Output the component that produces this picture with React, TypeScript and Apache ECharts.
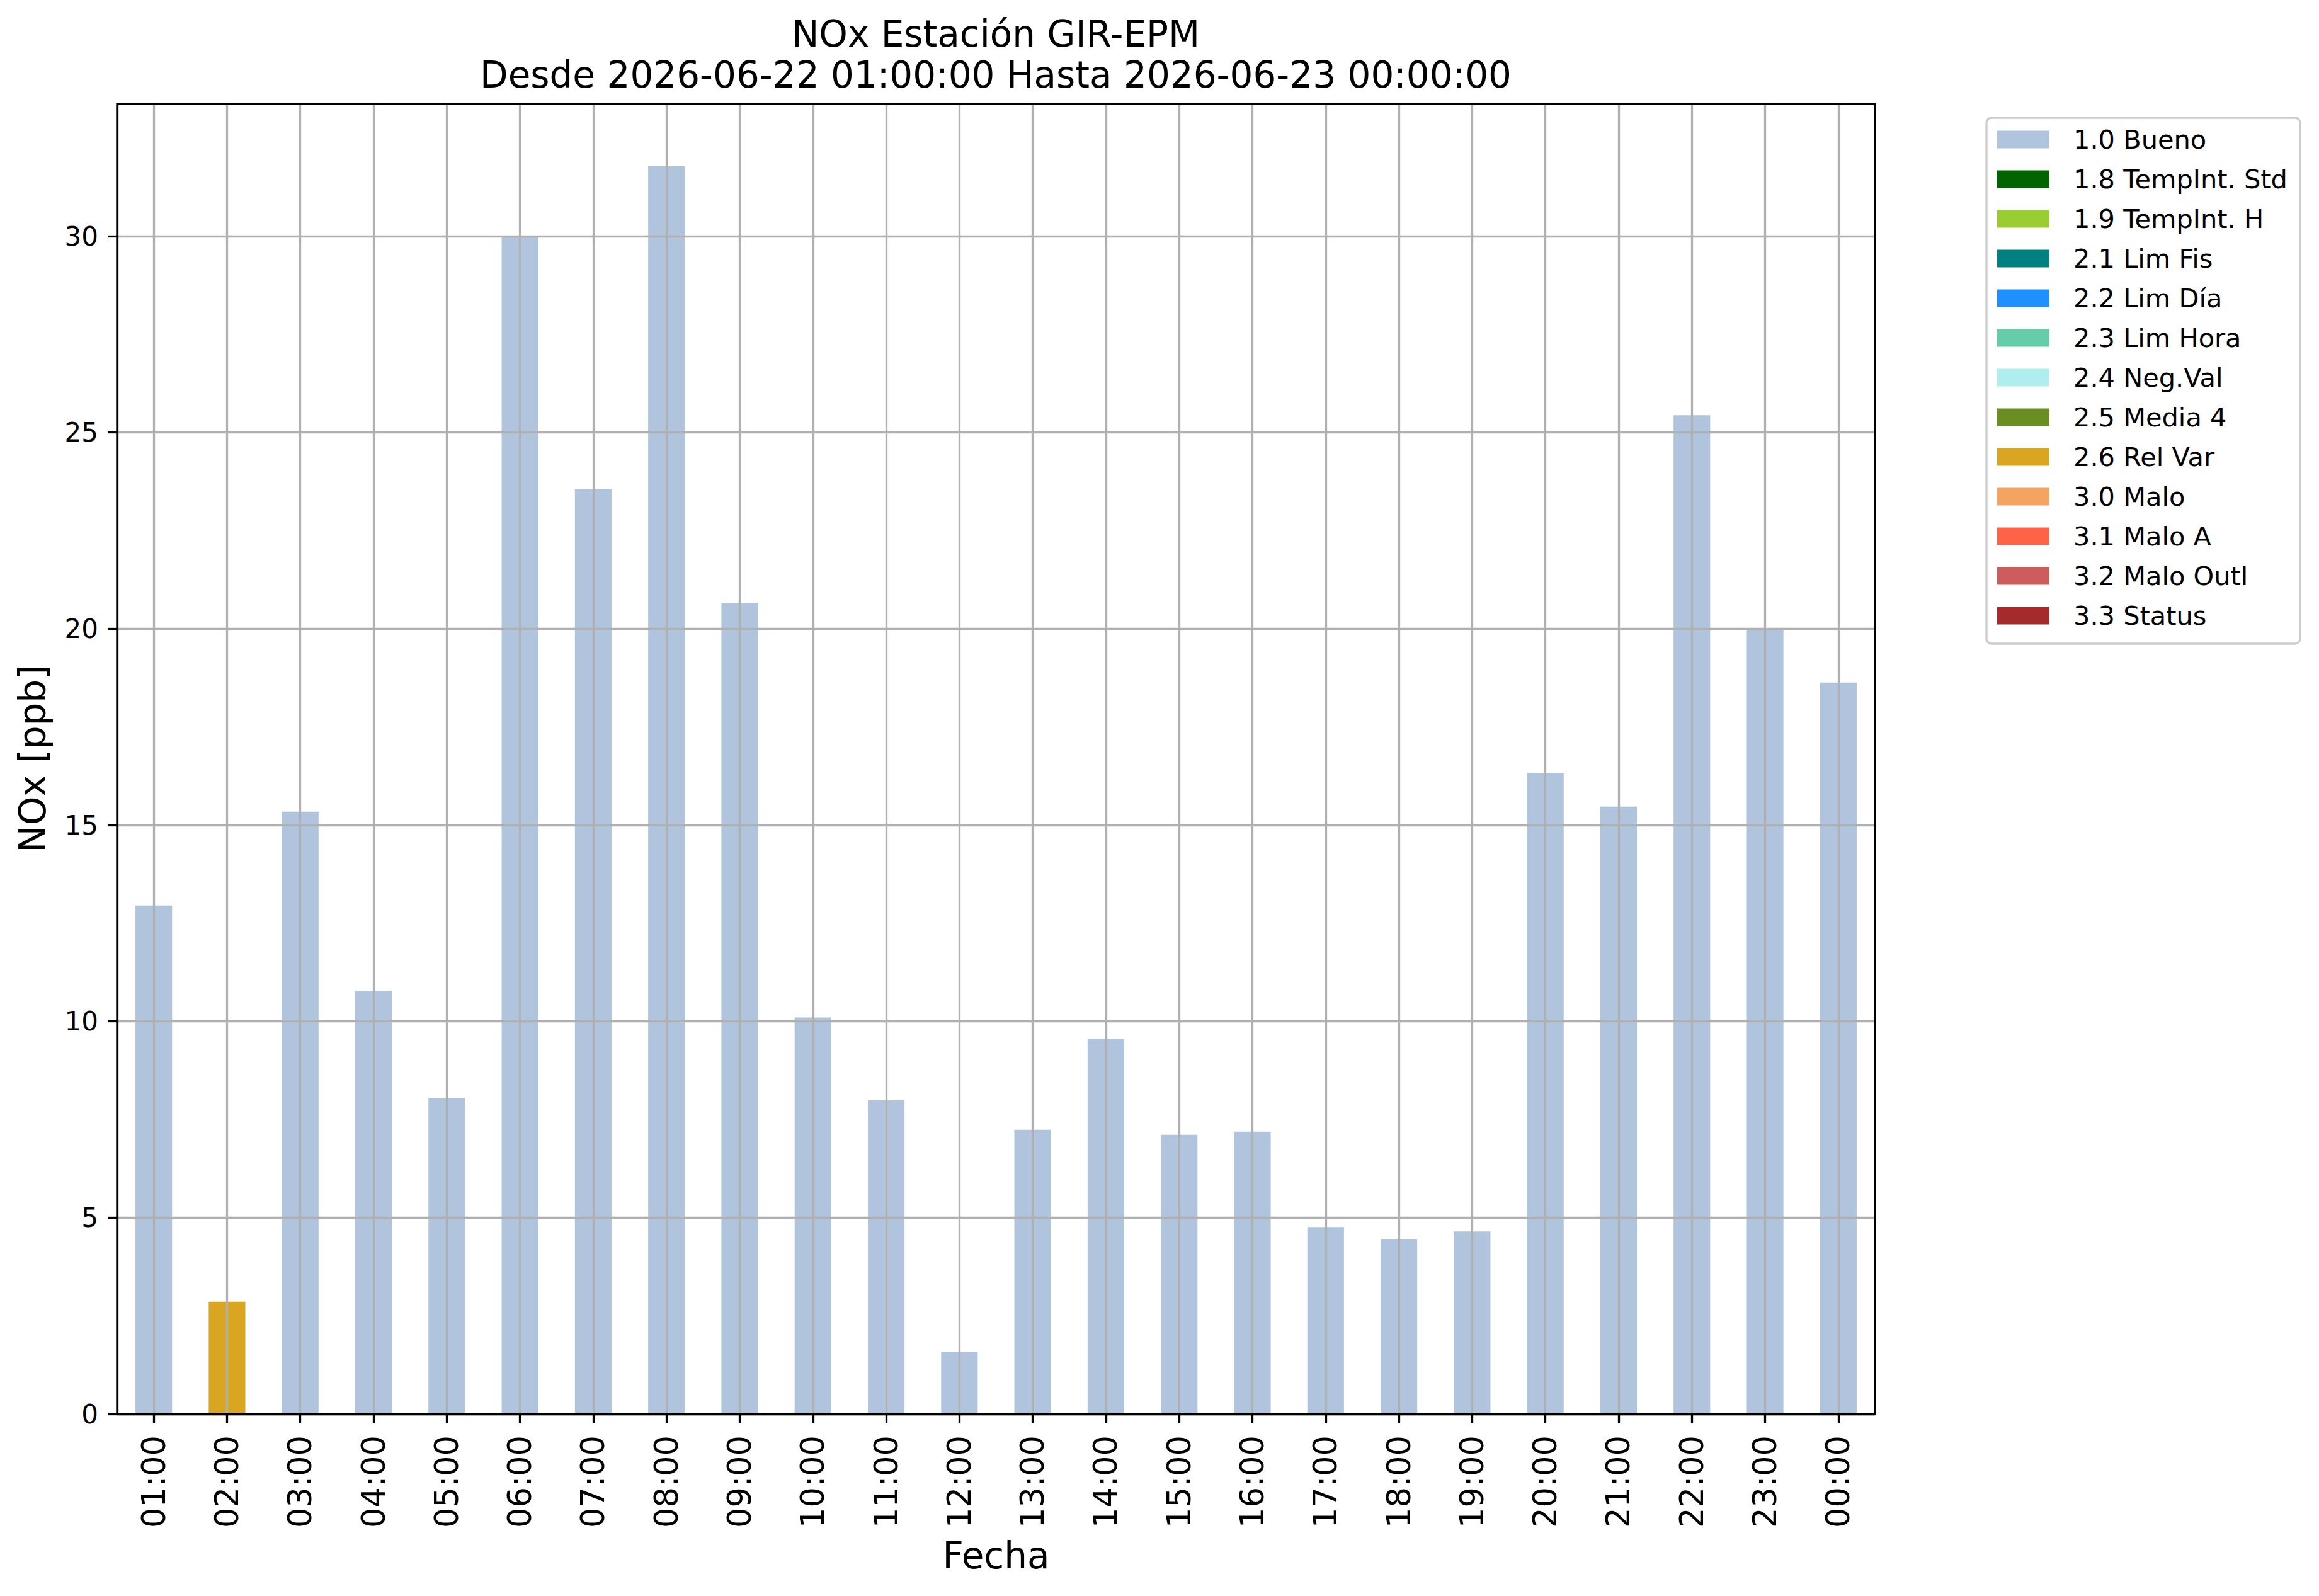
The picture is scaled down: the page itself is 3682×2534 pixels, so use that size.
import React, { useEffect, useRef } from "react";
import * as echarts from "echarts";

const hours = [
  "01:00", "02:00", "03:00", "04:00", "05:00", "06:00", "07:00", "08:00",
  "09:00", "10:00", "11:00", "12:00", "13:00", "14:00", "15:00", "16:00",
  "17:00", "18:00", "19:00", "20:00", "21:00", "22:00", "23:00", "00:00",
];

const noxValues = [
  12.95, 2.86, 15.34, 10.78, 8.04, 29.97, 23.56, 31.78,
  20.66, 10.1, 7.99, 1.59, 7.24, 9.56, 7.11, 7.19,
  4.76, 4.46, 4.65, 16.33, 15.47, 25.44, 19.96, 18.63,
];

const hourFlags = [
  "1.0", "2.6", "1.0", "1.0", "1.0", "1.0", "1.0", "1.0",
  "1.0", "1.0", "1.0", "1.0", "1.0", "1.0", "1.0", "1.0",
  "1.0", "1.0", "1.0", "1.0", "1.0", "1.0", "1.0", "1.0",
];

const flagCodes = ["1.0", "1.8", "1.9", "2.1", "2.2", "2.3", "2.4", "2.5", "2.6", "3.0", "3.1", "3.2", "3.3"];
const flagNames = [
  "1.0 Bueno", "1.8 TempInt. Std", "1.9 TempInt. H", "2.1 Lim Fis", "2.2 Lim Día",
  "2.3 Lim Hora", "2.4 Neg.Val", "2.5 Media 4", "2.6 Rel Var", "3.0 Malo",
  "3.1 Malo A", "3.2 Malo Outl", "3.3 Status",
];
const flagColors = [
  "#B0C4DE", "#006400", "#9ACD32", "#008080", "#1E90FF",
  "#66CDAA", "#AFEEEE", "#6B8E23", "#DAA520", "#F4A460",
  "#FF6347", "#CD5C5C", "#A52A2A",
];

const yTicks = [0, 5, 10, 15, 20, 25, 30];

const titleLine1 = "NOx Estación GIR-EPM";
const titleLine2 = "Desde 2026-06-22 01:00:00 Hasta 2026-06-23 00:00:00";
const xName = "Fecha";
const yName = "NOx [ppb]";

const FONT = "DejaVu Sans";

export default function App() {
  const ref = useRef<HTMLDivElement>(null);

  useEffect(() => {
    if (!ref.current) return;
    const chart = echarts.init(ref.current, null, { renderer: "svg" });
    const yMax = Math.max(...noxValues) * 1.05;

    const series = flagCodes.map((code, k) => ({
      name: flagNames[k],
      type: "bar",
      stack: "flags",
      barWidth: "50%",
      itemStyle: { color: flagColors[k] },
      emphasis: { disabled: true },
      data: noxValues.map((v, i) => (hourFlags[i] === code ? v : null)),
    }));

    chart.setOption({
      animation: false,
      backgroundColor: "#ffffff",
      textStyle: { fontFamily: FONT },
      graphic: [
        {
          type: "text",
          x: 1581,
          y: 54,
          style: {
            text: titleLine1,
            font: `58px "${FONT}"`,
            fill: "#000",
            textAlign: "center",
            textVerticalAlign: "middle",
          },
        },
        {
          type: "text",
          x: 1581,
          y: 119,
          style: {
            text: titleLine2,
            font: `58px "${FONT}"`,
            fill: "#000",
            textAlign: "center",
            textVerticalAlign: "middle",
          },
        },
      ],
      legend: {
        show: true,
        orient: "vertical",
        left: 3154,
        top: 187,
        padding: [13.5, 20, 23.5, 17],
        itemWidth: 83,
        itemHeight: 28,
        itemGap: 21,
        icon: "rect",
        selectedMode: false,
        backgroundColor: "rgba(255,255,255,0.8)",
        borderColor: "#cccccc",
        borderWidth: 3.3,
        borderRadius: 8,
        textStyle: {
          fontFamily: FONT,
          fontSize: 41.5,
          color: "#000",
          lineHeight: 28,
          padding: [0, 0, 0, 33],
        },
        data: flagNames,
      },
      grid: {
        left: 186,
        top: 165,
        width: 2791,
        height: 2080,
        show: true,
        borderColor: "#000",
        borderWidth: 3.3,
        backgroundColor: "transparent",
        z: 6,
      },
      xAxis: {
        type: "category",
        data: hours,
        boundaryGap: true,
        z: 4,
        name: xName,
        nameLocation: "middle",
        nameGap: 196,
        nameTextStyle: { fontFamily: FONT, fontSize: 58, color: "#000" },
        axisLine: { show: true, lineStyle: { color: "#000", width: 3.3 } },
        axisTick: {
          show: true,
          alignWithLabel: true,
          length: 15,
          lineStyle: { color: "#000", width: 3.3 },
        },
        axisLabel: {
          rotate: 90,
          fontFamily: FONT,
          fontSize: 51,
          color: "#000",
          margin: 34,
          interval: 0,
        },
        splitLine: {
          show: true,
          alignWithLabel: true,
          interval: 0,
          lineStyle: { color: "#b0b0b0", width: 3.3 },
        },
      },
      yAxis: {
        type: "value",
        min: 0,
        max: yMax,
        interval: 5,
        z: 3,
        name: yName,
        nameLocation: "middle",
        nameGap: 105,
        nameTextStyle: { fontFamily: FONT, fontSize: 58, color: "#000" },
        axisLine: { show: true, lineStyle: { color: "#000", width: 3.3 } },
        axisTick: {
          show: true,
          length: 15,
          lineStyle: { color: "#000", width: 3.3 },
          customValues: yTicks,
        },
        axisLabel: {
          fontFamily: FONT,
          fontSize: 42,
          color: "#000",
          margin: 30,
          customValues: yTicks,
          formatter: (v: number) => String(v),
        },
        splitLine: { show: true, lineStyle: { color: "#b0b0b0", width: 3.3 } },
      },
      series,
    });

    return () => {
      chart.dispose();
    };
  }, []);

  return (
    <div
      ref={ref}
      style={{
        position: "absolute",
        left: 0,
        top: 0,
        width: "3682px",
        height: "2534px",
        background: "#ffffff",
      }}
    />
  );
}
